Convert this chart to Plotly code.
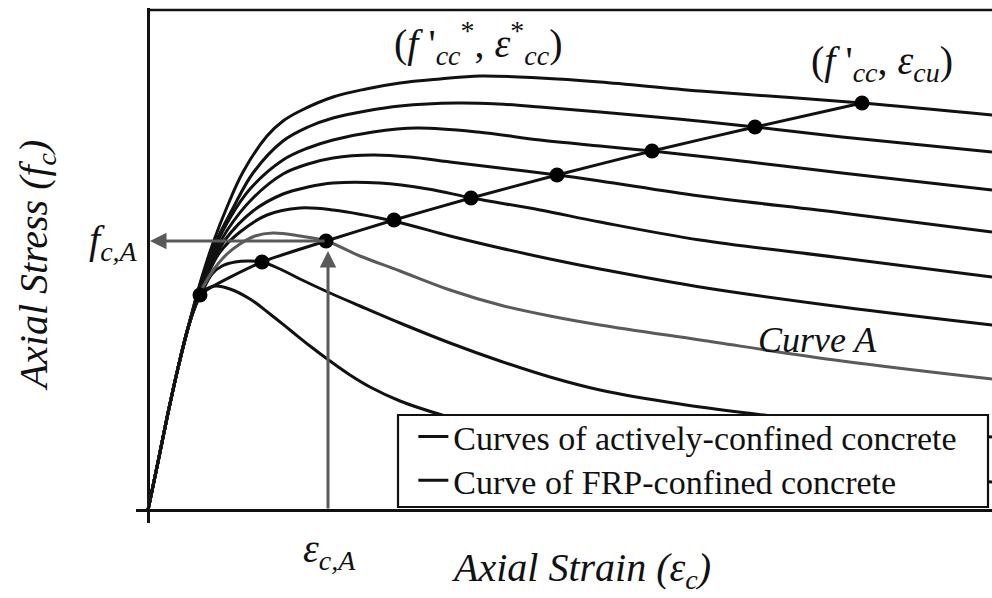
import plotly.graph_objects as go

branch_strain = [0, 10, 20, 30, 40]
branch_stress = [0, 48, 97, 142, 182]

c1_strain = [48, 54, 60, 68, 82, 102, 122, 142, 162, 182, 202, 222, 252, 294, 352, 452, 602, 844]
c1_stress = [208, 218, 222, 224, 221, 211, 196, 180, 164, 149, 135, 123, 109, 95, 80, 62, 44, 28]

c2_strain = [48, 57, 64, 74, 87, 100, 114, 132, 152, 182, 212, 252, 302, 352, 402, 452, 532, 607, 702, 844]
c2_stress = [205, 224, 236, 244, 248, 249, 248, 241, 231, 217, 204, 187, 167, 149, 133, 120, 106, 96, 85, 73]

cA_strain = [48, 55, 66, 79, 92, 107, 125, 152, 178, 212, 252, 302, 352, 402, 452, 552, 694, 844]
cA_stress = [207, 223, 241, 256, 266, 274, 277, 274, 269, 254, 239, 220, 205, 194, 185, 170, 149, 131]

c4_strain = [50, 60, 72, 92, 119, 152, 185, 245, 302, 352, 402, 452, 552, 694, 844]
c4_stress = [212, 236, 258, 278, 295, 302, 300, 289, 274, 262, 251, 241, 223, 203, 185]

c5_strain = [50, 62, 77, 105, 135, 160, 185, 232, 280, 324, 392, 452, 552, 694, 844]
c5_stress = [214, 244, 270, 299, 316, 323, 327, 327, 321, 312, 300, 288, 270, 252, 233]

c6_strain = [51, 63, 80, 105, 135, 160, 185, 225, 262, 302, 352, 409, 452, 552, 694, 844]
c6_stress = [216, 250, 281, 312, 336, 346, 352, 355, 353, 348, 342, 335, 329, 314, 297, 278]

c7_strain = [52, 64, 82, 102, 135, 160, 185, 225, 269, 330, 392, 452, 504, 602, 694, 844]
c7_stress = [222, 256, 292, 321, 350, 362, 370, 378, 382, 378, 370, 364, 359, 348, 337, 320]

c8_strain = [52, 65, 84, 105, 135, 160, 185, 218, 252, 309, 350, 392, 452, 530, 607, 694, 844]
c8_stress = [225, 262, 300, 337, 369, 383, 392, 399, 404, 407, 406, 403, 398, 391, 383, 373, 358]

c9_strain = [53, 65, 79, 95, 119, 135, 152, 185, 218, 252, 292, 332, 392, 452, 552, 714, 844]
c9_stress = [230, 267, 303, 338, 374, 389, 399, 413, 421, 427, 431, 434, 432, 428, 419, 407, 395]

frp_strain = [52, 114, 178, 246, 323, 409, 504, 607, 714]
frp_stress = [215, 248, 269, 290, 312, 335, 359, 383, 407]

point_A_index = 2  # the FRP point lying on Curve A

BLACK = "#111111"
GRAY = "#5a5a5a"
SERIF = "Liberation Serif, Times New Roman, serif"
LW = 3

fig = go.Figure()

active = [
    (c9_strain, c9_stress),
    (c8_strain, c8_stress),
    (c7_strain, c7_stress),
    (c6_strain, c6_stress),
    (c5_strain, c5_stress),
    (c4_strain, c4_stress),
    (c2_strain, c2_stress),
    (c1_strain, c1_stress),
]
for i, (xs, ys) in enumerate(active):
    fig.add_trace(go.Scatter(
        x=branch_strain + xs, y=branch_stress + ys, mode="lines",
        line=dict(color=BLACK, width=LW, shape="spline", smoothing=1.0),
        name="Curves of actively-confined concrete",
        showlegend=(i == 0), legend="legend", hoverinfo="skip"))

# Curve A (gray)
fig.add_trace(go.Scatter(
    x=branch_strain + cA_strain, y=branch_stress + cA_stress, mode="lines",
    line=dict(color=GRAY, width=LW, shape="spline", smoothing=1.0),
    showlegend=False, hoverinfo="skip"))

# FRP-confined curve
fig.add_trace(go.Scatter(
    x=branch_strain + frp_strain, y=branch_stress + frp_stress, mode="lines",
    line=dict(color=BLACK, width=LW, shape="spline", smoothing=0.5),
    name="Curve of FRP-confined concrete", legend="legend2", hoverinfo="skip"))

fig.add_trace(go.Scatter(
    x=frp_strain, y=frp_stress, mode="markers",
    marker=dict(color="black", size=15), showlegend=False, hoverinfo="skip"))

ecA = frp_strain[point_A_index]
fcA = frp_stress[point_A_index]

x_max = max(c1_strain)

shapes = [
    # top frame line
    dict(type="line", xref="x", yref="y", x0=0, x1=x_max, y0=500, y1=500,
         line=dict(color=BLACK, width=2.5)),
    # legend box
    dict(type="rect", xref="x", yref="y", x0=250, x1=840, y0=3, y1=95,
         fillcolor="white", line=dict(color=BLACK, width=2.2), layer="above"),
]

annotations = [
    # arrows
    dict(x=2, y=fcA, ax=ecA, ay=fcA, xref="x", yref="y", axref="x", ayref="y",
         text="", showarrow=True, arrowhead=2, arrowsize=1.1, arrowwidth=3,
         arrowcolor=GRAY),
    dict(x=ecA + 2, y=fcA - 10, ax=ecA + 2, ay=0, xref="x", yref="y", axref="x", ayref="y",
         text="", showarrow=True, arrowhead=2, arrowsize=1.1, arrowwidth=3,
         arrowcolor=GRAY),
    # labels inside plot
    dict(x=330, y=467, xref="x", yref="y", showarrow=False,
         text="(<i>f</i> '<sub><i>cc</i></sub><sup>*</sup>, <i>ε</i><sup>*</sup><sub><i>cc</i></sub>)",
         font=dict(family=SERIF, size=40, color=BLACK)),
    dict(x=734, y=447, xref="x", yref="y", showarrow=False,
         text="(<i>f</i> '<sub><i>cc</i></sub>, <i>ε</i><sub><i>cu</i></sub>)",
         font=dict(family=SERIF, size=40, color=BLACK)),
    dict(x=669, y=170, xref="x", yref="y", showarrow=False,
         text="<i>Curve A</i>", font=dict(family=SERIF, size=36, color=BLACK)),
    # labels outside
    dict(x=0.005, y=0.545, xref="paper", yref="paper", xanchor="right", yanchor="middle",
         showarrow=False, text="<i>f</i><sub><i>c,A</i></sub>",
         font=dict(family=SERIF, size=40, color=BLACK)),
    dict(x=0.226, y=-0.055, xref="paper", yref="paper", xanchor="center", yanchor="middle",
         showarrow=False, text="<i>ε</i><sub><i>c,A</i></sub>",
         font=dict(family=SERIF, size=40, color=BLACK)),
    dict(x=0.52, y=-0.092, xref="paper", yref="paper", xanchor="center", yanchor="middle",
         showarrow=False, text="<i>Axial Strain (ε</i><sub><i>c</i></sub><i>)</i>",
         font=dict(family=SERIF, size=40, color=BLACK)),
    dict(x=-0.117, y=0.5, xref="paper", yref="paper", xanchor="center", yanchor="middle",
         textangle=-90, showarrow=False, text="<i>Axial Stress (f</i><sub><i>c</i></sub><i>)</i>",
         font=dict(family=SERIF, size=40, color=BLACK)),
]

legend_common = dict(bgcolor="rgba(0,0,0,0)", borderwidth=0,
                     font=dict(family=SERIF, size=34, color=BLACK),
                     xref="paper", yref="paper", xanchor="left", yanchor="middle",
                     itemwidth=30)

fig.update_layout(
    width=992, height=598,
    margin=dict(l=136, r=0, t=8, b=75),
    paper_bgcolor="white", plot_bgcolor="white",
    xaxis=dict(range=[-12, x_max], showgrid=False, showticklabels=False, ticks="",
               zeroline=True, zerolinecolor=BLACK, zerolinewidth=2.5, showline=False),
    yaxis=dict(range=[-13, 502], showgrid=False, showticklabels=False, ticks="",
               zeroline=True, zerolinecolor=BLACK, zerolinewidth=2.5, showline=False),
    shapes=shapes, annotations=annotations,
    legend=dict(x=0.324, y=0.167, **legend_common),
    legend2=dict(x=0.324, y=0.082, **legend_common),
)

fig.write_html("out.html")
